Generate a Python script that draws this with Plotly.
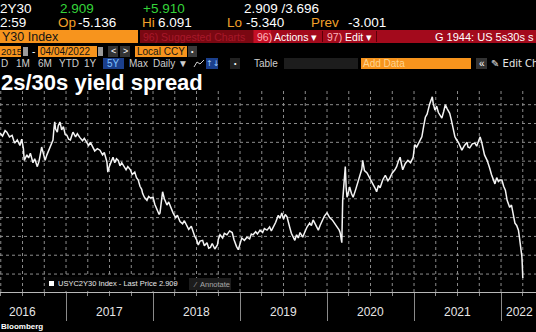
import plotly.graph_objects as go

# ---------------- data (decimal year, 2s/30s spread in bp) ----------------
time_yr = [2016.24, 2016.27, 2016.30, 2016.32, 2016.35, 2016.38, 2016.40, 2016.41, 2016.44, 2016.47,
           2016.49, 2016.51, 2016.52, 2016.55, 2016.57, 2016.59, 2016.62, 2016.64, 2016.67, 2016.69,
           2016.72, 2016.74, 2016.76, 2016.78, 2016.80, 2016.82, 2016.85, 2016.86, 2016.87, 2016.88,
           2016.90, 2016.91, 2016.93, 2016.95, 2016.97, 2016.99, 2017.01, 2017.03, 2017.05, 2017.07,
           2017.08, 2017.11, 2017.13, 2017.16, 2017.19, 2017.21, 2017.24, 2017.26, 2017.28, 2017.31,
           2017.33, 2017.36, 2017.39, 2017.42, 2017.44, 2017.47, 2017.48, 2017.50, 2017.52, 2017.54,
           2017.56, 2017.58, 2017.60, 2017.62, 2017.64, 2017.66, 2017.69, 2017.71, 2017.74, 2017.76,
           2017.79, 2017.81, 2017.83, 2017.85, 2017.87, 2017.88, 2017.90, 2017.93, 2017.95, 2017.97,
           2018.00, 2018.02, 2018.04, 2018.05, 2018.07, 2018.08, 2018.10, 2018.11, 2018.13, 2018.16,
           2018.18, 2018.21, 2018.23, 2018.26, 2018.28, 2018.31, 2018.34, 2018.36, 2018.39, 2018.41,
           2018.44, 2018.46, 2018.48, 2018.50, 2018.52, 2018.54, 2018.57, 2018.59, 2018.62, 2018.64,
           2018.66, 2018.68, 2018.71, 2018.74, 2018.75, 2018.77, 2018.80, 2018.82, 2018.85, 2018.88,
           2018.91, 2018.93, 2018.94, 2018.96, 2018.98, 2019.00, 2019.02, 2019.05, 2019.08, 2019.11,
           2019.13, 2019.15, 2019.18, 2019.20, 2019.23, 2019.26, 2019.28, 2019.31, 2019.34, 2019.36,
           2019.38, 2019.41, 2019.43, 2019.44, 2019.46, 2019.48, 2019.50, 2019.52, 2019.54, 2019.56,
           2019.57, 2019.59, 2019.61, 2019.63, 2019.65, 2019.67, 2019.69, 2019.71, 2019.72, 2019.75,
           2019.77, 2019.80, 2019.82, 2019.84, 2019.87, 2019.90, 2019.92, 2019.95, 2019.97, 2020.00,
           2020.03, 2020.06, 2020.09, 2020.12, 2020.14, 2020.15, 2020.17, 2020.18, 2020.195, 2020.21,
           2020.22, 2020.23, 2020.25, 2020.26, 2020.28, 2020.30, 2020.33, 2020.36, 2020.38, 2020.40,
           2020.41, 2020.43, 2020.46, 2020.49, 2020.52, 2020.55, 2020.57, 2020.59, 2020.61, 2020.64,
           2020.67, 2020.70, 2020.72, 2020.75, 2020.78, 2020.80, 2020.82, 2020.84, 2020.86, 2020.87,
           2020.90, 2020.93, 2020.96, 2020.99, 2021.00, 2021.01, 2021.03, 2021.05, 2021.07, 2021.09,
           2021.11, 2021.13, 2021.15, 2021.16, 2021.18, 2021.21, 2021.22, 2021.24, 2021.26, 2021.28,
           2021.30, 2021.32, 2021.34, 2021.36, 2021.38, 2021.41, 2021.43, 2021.45, 2021.47, 2021.49,
           2021.51, 2021.53, 2021.55, 2021.58, 2021.61, 2021.62, 2021.64, 2021.67, 2021.70, 2021.72,
           2021.74, 2021.76, 2021.78, 2021.79, 2021.81, 2021.84, 2021.86, 2021.87, 2021.89, 2021.91,
           2021.93, 2021.95, 2021.97, 2021.99, 2022.01, 2022.03, 2022.05, 2022.07, 2022.08, 2022.10,
           2022.12, 2022.14, 2022.16, 2022.18, 2022.20, 2022.21, 2022.22, 2022.23, 2022.24, 2022.245,
           2022.25]
spread_bp = [188, 184, 191, 189, 183, 185, 178, 175, 179, 172,
             180, 168, 153, 160, 156, 162, 150, 155, 145, 152,
             170, 161, 153, 160, 165, 170, 179, 192, 202, 193,
             189, 197, 202, 192, 196, 186, 185, 180, 179, 186,
             189, 183, 187, 182, 178, 181, 175, 172, 176, 170,
             165, 168, 166, 160, 163, 151, 138, 146, 152, 157,
             150, 155, 153, 146, 150, 147, 141, 145, 141, 135,
             138, 131, 128, 120, 116, 111, 106, 102, 107, 105,
             106, 97, 92, 89, 84, 86, 102, 113, 104, 96,
             100, 90, 86, 80, 83, 75, 72, 76, 68, 65,
             69, 61, 56, 52, 45, 50, 51, 44, 48, 41,
             42, 47, 40, 45, 52, 58, 54, 60, 58, 63,
             61, 52, 48, 43, 39, 46, 54, 51, 55, 53,
             59, 58, 62, 59, 64, 61, 66, 64, 68, 63,
             67, 74, 80, 83, 79, 86, 78, 84, 81, 74,
             68, 60, 55, 51, 58, 54, 61, 57, 55, 63,
             68, 73, 70, 77, 71, 64, 70, 77, 82, 86,
             80, 77, 72, 68, 64, 61, 48, 102, 125, 145,
             118, 106, 114, 119, 111, 106, 116, 128, 135, 142,
             153, 140, 137, 131, 125, 118, 113, 121, 118, 128,
             134, 127, 130, 137, 141, 145, 152, 157, 146, 141,
             149, 153, 150, 157, 166, 173, 170, 175, 180, 183,
             196, 208, 212, 217, 225, 234, 226, 217, 222, 214,
             211, 207, 215, 224, 219, 213, 204, 192, 183, 179,
             176, 171, 166, 172, 176, 170, 169, 174, 175, 171,
             178, 183, 175, 169, 160, 153, 147, 143, 135, 128,
             123, 131, 126, 128, 128, 120, 115, 102, 98, 93,
             96, 86, 73, 70, 64, 56, 48, 38, 30, 18,
             2.909]

year_labels = ["2016", "2017", "2018", "2019", "2020", "2021", "2022"]
year_label_pos = [2016.5, 2017.5, 2018.5, 2019.5, 2020.5, 2021.5, 2022.21]
year_bounds = [2016, 2017, 2018, 2019, 2020, 2021, 2022]

X_RANGE = [2016.241, 2022.402]
Y_RANGE = [-14.9, 245.3]
Y_GRID0, Y_GRID_STEP = 8, 24

W, H = 536, 332
T, B = 88, 292  # plot area top / bottom in pixels


def px(x):
    return x / W


def py(y):
    return (B - y) / (B - T)


FONT = "Liberation Sans, Arial, sans-serif"

# dotted grid built from the axis settings (quarterly verticals + horizontal levels)
gx, gy = [], []
q = 2016.25
while q < X_RANGE[1]:
    if q > X_RANGE[0]:
        gx += [q, q, None]
        gy += [Y_RANGE[0], Y_RANGE[1], None]
    q += 0.25
lv = Y_GRID0
while lv < Y_RANGE[1]:
    gx += [X_RANGE[0], X_RANGE[1], None]
    gy += [lv, lv, None]
    lv += Y_GRID_STEP

fig = go.Figure()
fig.add_trace(go.Scatter(x=gx, y=gy, mode="lines", hoverinfo="skip", connectgaps=False,
                         line=dict(color="#8c8c8c", width=1, dash="dot")))
fig.add_trace(go.Scatter(x=time_yr, y=spread_bp, mode="lines", hoverinfo="skip",
                         line=dict(color="#f4f4f4", width=1.5)))

fig.update_layout(
    width=W, height=H, margin=dict(l=0, r=0, t=T, b=H - B),
    paper_bgcolor="#000000", plot_bgcolor="#000000", showlegend=False,
    xaxis=dict(range=X_RANGE, tickmode="array", tickvals=year_bounds,
               ticks="outside", ticklen=28, tickcolor="#8a8a8a", tickwidth=1,
               showticklabels=False, showgrid=False, showline=True, linecolor="#b8b8b8",
               linewidth=1, zeroline=False,
               minor=dict(tickmode="linear", tick0=2016, dtick=0.25, ticks="outside", ticklen=3,
                          tickcolor="#8a8a8a", showgrid=False)),
    yaxis=dict(range=Y_RANGE, showticklabels=False, showgrid=False, zeroline=False, ticks=""),
)

shapes = []
ann = []


def rect(x0, y0, x1, y1, color):
    shapes.append(dict(type="rect", xref="paper", yref="paper", x0=px(x0), x1=px(x1),
                       y0=py(y1), y1=py(y0), fillcolor=color, line=dict(width=0),
                       layer="above"))


def text(x, y, s, color="#ffffff", size=12, bold=False, family=FONT, anchor="left"):
    if bold:
        s = "<b>" + s + "</b>"
    ann.append(dict(xref="paper", yref="paper", x=px(x), y=py(y), text=s, showarrow=False,
                    xanchor=anchor, yanchor="middle", borderpad=0,
                    font=dict(color=color, size=size, family=family)))


GREEN = "#35d43a"
ORANGE_T = "#f2a12a"
ORANGE = "#f7941d"
HS = 13.5

# Row 1
text(-1, 8, "2Y30", size=HS)
text(59, 8, "2.909", GREEN, HS)
text(142, 8, "+5.910", GREEN, HS)
text(243, 8, "2.909 /3.696", size=HS)
# Row 2
text(-1, 22, "2:59", size=HS)
text(57, 22, "Op", ORANGE_T, HS)
text(77, 22, "-5.136", size=HS)
text(141, 22, "Hi", ORANGE_T, HS)
text(157, 22, "6.091", size=HS)
text(226, 22, "Lo", ORANGE_T, HS)
text(245, 22, "-5.340", size=HS)
text(310, 22, "Prev", ORANGE_T, HS)
text(347, 22, "-3.001", size=HS)

# Row 3
rect(0, 30, 138, 43, ORANGE)
text(1, 36.5, "Y30 Index", "#141414", 12.5)
rect(140, 30, 536, 43, "#a30a1c")
rect(140, 30, 253, 43, "#7a0812")
text(142, 36.5, "96) Suggested Charts", "#a8182a", 10.5)
rect(254, 30, 271, 43, "#c50f25")
text(256, 36.5, "<span style='color:#ffb3bb'>96)</span>", "#ffffff", 10.5)
text(273, 36.5, "Actions ▾", "#ffffff", 10.5)
rect(322, 31, 323, 42, "#5a0008")
text(326, 36.5, "<span style='color:#ffb3bb'>97)</span> Edit ▾", "#ffffff", 10.5)
rect(376, 31, 377, 42, "#5a0008")
text(434, 36.5, "G 1944: US 5s30s s", "#ffffff", 11)

# Row 4
rect(0, 46, 21, 57, ORANGE)
text(0, 51.5, "2015", "#141414", 9.5)
rect(23, 47, 28, 56, "#9a9a9a")
text(31, 51.5, "-", "#ffffff", 10)
rect(38, 46, 97, 57, ORANGE)
text(39, 51.5, "04/04/2022", "#141414", 10)
rect(98, 47, 103, 56, "#9a9a9a")
rect(108, 46, 118, 57, "#333333")
text(113, 51.5, "<", "#ffffff", 9, anchor="center")
rect(120, 46, 130, 57, "#333333")
text(125, 51.5, ">", "#ffffff", 9, anchor="center")
rect(135, 46, 187, 57, ORANGE)
text(136, 51.5, "Local CCY", "#141414", 10)
rect(188, 46, 197, 57, "#3a3a3a")
text(192.5, 51.5, "•", "#ffffff", 7, anchor="center")

# Row 5
RS = 10
text(0, 63.5, "D", "#cfcfcf", RS)
text(15, 63.5, "1M", "#cfcfcf", RS)
text(37, 63.5, "6M", "#cfcfcf", RS)
text(58, 63.5, "YTD", "#cfcfcf", RS)
text(83, 63.5, "1Y", "#cfcfcf", RS)
rect(103, 58, 124, 69, "#1b3f8c")
text(113.5, 63.5, "5Y", "#7fc0ff", RS, anchor="center")
text(128, 63.5, "Max", "#cfcfcf", RS)
text(152, 63.5, "Daily ▼", "#cfcfcf", RS)
shapes.append(dict(type="path", xref="paper", yref="paper",
                   path="M {} {} L {} {} L {} {} L {} {}".format(px(194), py(67), px(197), py(62),
                                                                 px(200), py(64), px(204), py(60)),
                   line=dict(color="#cfcfcf", width=1), layer="above"))
rect(206, 58, 218, 69, "#1b3f8c")
text(212, 63.5, "↑↓", "#9fd0ff", 8, family="DejaVu Sans", anchor="center")
rect(230, 58, 240, 69, "#222222")
text(235, 63.5, "•", "#ffffff", 7, anchor="center")
text(253, 63.5, "Table", "#cfcfcf", RS)
rect(284, 58, 358, 69, "#1d1d1d")
rect(361, 58, 471, 69, ORANGE)
text(362, 63.5, "Add Data", "#ffd48f", RS)
rect(476, 58, 487, 69, "#333333")
text(481.5, 63.5, "«", "#ffffff", RS, anchor="center")
text(490, 63.5, "✎ Edit Cha", "#e6e6e6", RS, family="DejaVu Sans, Liberation Sans")

# Title
text(0, 82, "2s/30s yield spread", "#ffffff", 22, bold=True)

# Legend box
rect(45, 277, 172, 291, "#050505")
rect(49, 281, 54, 286, "#ffffff")
text(57, 283.5, "USYC2Y30 Index - Last Price 2.909", "#e8e8e8", 7.5)
rect(189, 278, 231, 290, "#1c1c1c")
text(192, 284, "⁄  Annotate", "#a8a8a8", 7.5)

# Year labels
for lab, pos in zip(year_labels, year_label_pos):
    ann.append(dict(xref="x", yref="paper", x=pos, y=py(312), text=lab, showarrow=False,
                    xanchor="center", yanchor="middle",
                    font=dict(color="#e6e6e6", size=12, family=FONT)))

# Bloomberg mark
text(0, 326, "Bloomberg", "#ffffff", 8, bold=True)

fig.update_layout(shapes=shapes, annotations=ann)
fig.write_html("out.html", config={"displayModeBar": False})
